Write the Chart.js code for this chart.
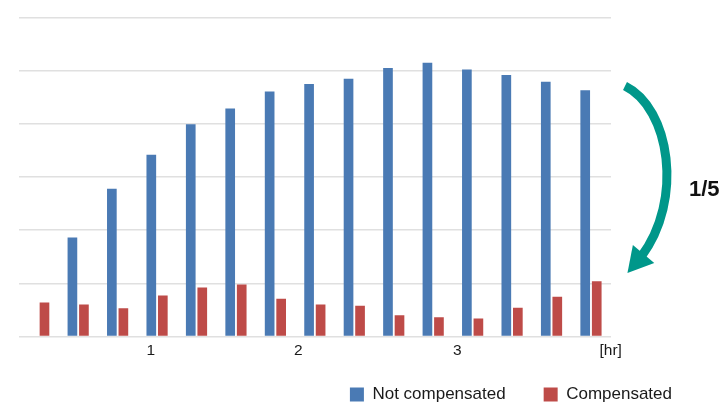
<!DOCTYPE html>
<html>
<head>
<meta charset="utf-8">
<script src="https://cdn.jsdelivr.net/npm/chart.js@4/dist/chart.umd.min.js"></script>
<style>
  html, body { margin: 0; padding: 0; background: #fff; }
  #c { display: block; }
</style>
</head>
<body>
<canvas id="c" width="721" height="405"></canvas>
<script>
// ---- data ----
const categories = ['1','2','3','4','5','6','7','8','9','10','11','12','13','14','15'];
const notCompensated = [null, 18.6, 27.8, 34.2, 39.9, 42.9, 46.1, 47.5, 48.5, 50.5, 51.5, 50.2, 49.2, 47.9, 46.3];
const compensated    = [6.4, 6.0, 5.3, 7.7, 9.2, 9.8, 7.1, 6.0, 5.8, 4.0, 3.6, 3.4, 5.4, 7.5, 10.4];
const tickLabels = ['1', '2', '3', '[hr]'];
const tickPositions = [2.84, 6.58, 10.61, 14.5]; // in category-index units
const seriesNames = ['Not compensated', 'Compensated'];
const annotationText = '1/5';

const FONT = "'Liberation Sans', Arial, Helvetica, sans-serif";

const arrowPlugin = {
  id: 'arrowAnnot',
  afterDraw(chart) {
    const ctx = chart.ctx;
    ctx.save();
    const teal = '#00978a';
    // curved shaft
    ctx.strokeStyle = teal;
    ctx.lineWidth = 9;
    ctx.lineCap = 'butt';
    ctx.beginPath();
    ctx.moveTo(625, 86);
    ctx.bezierCurveTo(670, 108, 684, 200, 641, 257);
    ctx.stroke();
    // arrow head
    const px = 641, py = 257;
    const dx = -0.645, dy = 0.764;
    const nx = 0.764, ny = 0.645;
    const tipLen = 21, half = 14, back = 4;
    const bx = px - dx * back, by = py - dy * back;
    ctx.fillStyle = teal;
    ctx.beginPath();
    ctx.moveTo(px + dx * tipLen, py + dy * tipLen);
    ctx.lineTo(bx + nx * half, by + ny * half);
    ctx.lineTo(bx - nx * half, by - ny * half);
    ctx.closePath();
    ctx.fill();
    // label
    ctx.fillStyle = '#111';
    ctx.font = "bold 22px " + FONT;
    ctx.textBaseline = 'middle';
    ctx.textAlign = 'left';
    ctx.fillText(annotationText, 689, 190);
    ctx.restore();
  }
};

new Chart(document.getElementById('c'), {
  type: 'bar',
  data: {
    labels: categories,
    datasets: [
      { label: seriesNames[0], data: notCompensated, backgroundColor: '#4a7ab4' },
      { label: seriesNames[1], data: compensated, backgroundColor: '#be4b48' }
    ]
  },
  options: {
    responsive: false,
    animation: false,
    devicePixelRatio: 1,
    layout: { padding: { left: 19, right: 11, top: 17.5, bottom: -8 } },
    datasets: { bar: { categoryPercentage: 0.584, barPercentage: 0.84 } },
    scales: {
      x: {
        type: 'category',
        display: false,
        offset: true,
        grid: { display: false }
      },
      xt: {
        type: 'linear',
        position: 'bottom',
        offset: false,
        min: -0.5,
        max: 14.5,
        grid: { display: false, drawTicks: false, offset: false },
        border: { display: false },
        afterBuildTicks(axis) {
          axis.ticks = tickPositions.map(v => ({ value: v }));
        },
        afterFit(axis) { axis.height = 11.5; },
        ticks: {
          autoSkip: false,
          maxRotation: 0,
          mirror: true,
          padding: -23.5,
          color: '#1a1a1a',
          font: { family: FONT, size: 15.5 },
          callback: (v, i) => tickLabels[i]
        }
      },
      y: {
        position: 'right',
        min: 0,
        max: 60,
        afterFit(axis) { axis.width = 99.3; },
        ticks: { display: false, stepSize: 10 },
        grid: { color: '#e0e0e0', lineWidth: 1.5, drawTicks: false },
        border: { display: false }
      }
    },
    plugins: {
      tooltip: { enabled: false },
      legend: {
        position: 'bottom',
        align: 'end',
        labels: {
          boxWidth: 14,
          boxHeight: 14,
          padding: 38,
          color: '#1a1a1a',
          font: { family: FONT, size: 17 }
        }
      }
    }
  },
  plugins: [arrowPlugin]
});
</script>
</body>
</html>
